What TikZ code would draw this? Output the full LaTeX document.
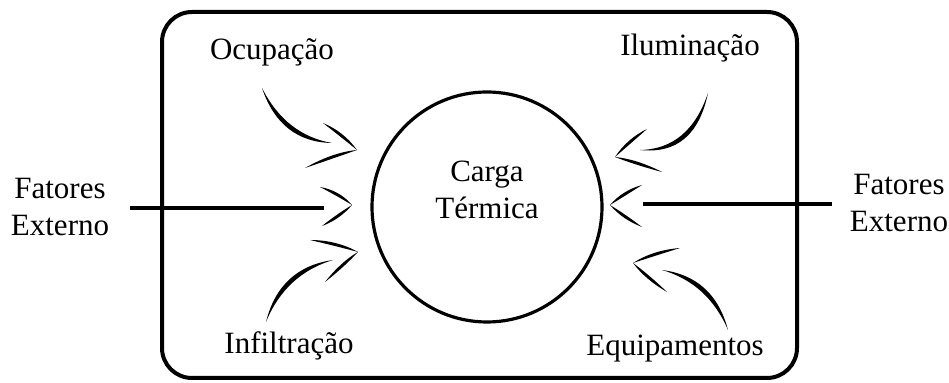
\documentclass[tikz,border=0pt]{standalone}
\usepackage{fontspec}
\setmainfont{Liberation Serif}
\usetikzlibrary{calc}
% tapered brush stroke along a quadratic curve A -- C -- B
\newcommand\brush[4]{%
  \coordinate (bA) at #1; \coordinate (bC) at #2; \coordinate (bB) at #3;
  \coordinate (bn) at ($(bA)!#4!90:(bB)$);
  \coordinate (bP) at ($(bA)!0.6667!(bC)$);
  \coordinate (bQ) at ($(bB)!0.6667!(bC)$);
  \fill (bA) .. controls ($(bP)+(bn)-(bA)$) and ($(bQ)+(bn)-(bA)$) .. (bB)
        .. controls ($(bQ)-(bn)+(bA)$) and ($(bP)-(bn)+(bA)$) .. (bA);
}
\begin{document}
\begin{tikzpicture}[x=0.5pt,y=-0.5pt,
  lbl/.style={font=\fontsize{15.5}{18.5}\selectfont, align=center, inner sep=0pt},
  frame/.style={line width=2pt, rounded corners=15pt},
  ring/.style={line width=1.6pt},
  feed/.style={line width=2pt}]
\useasboundingbox (0,0) rectangle (949,383);
\draw[frame] (162,12) rectangle (797,378);
\node[ring, draw, circle, minimum size=115pt, inner sep=0pt] (circ) at (487,207) {};
\node[lbl] (carga) at (487,190) {Carga\\Térmica};
\node[lbl] (ocup) at (272,52) {Ocupação};
\node[lbl] (ilum) at (690,48) {Iluminação};
\node[lbl] (infil) at (289,346) {Infiltração};
\node[lbl] (equip) at (675,349) {Equipamentos};
\node[lbl] (fl) at (60,207) {Fatores\\Externo};
\node[lbl] (fr) at (899,203) {Fatores\\Externo};
\coordinate (le) at (324,208);
\coordinate (rs) at (643,204);
\coordinate (re) at (832,204);
\draw[feed] (fl.east |- le) ++(21,0) -- (le);
\draw[feed] (rs) -- (re);
% top-left
\brush{(262,88)}{(283,138.5)}{(332,143)}{1.5pt}
\brush{(323,123)}{(342,134)}{(357,150)}{1pt}
\brush{(305,168)}{(334,155)}{(357,150)}{1pt}
% top-right
\brush{(708,93)}{(692,152.5)}{(640,150)}{1.5pt}
\brush{(647,129)}{(629,141)}{(615,157)}{1pt}
\brush{(662,172)}{(636,162)}{(615,157)}{1pt}
% bottom-left
\brush{(266,322)}{(282.5,271)}{(333,260)}{1.5pt}
\brush{(310,240)}{(336,243)}{(358,252)}{1pt}
\brush{(325,282)}{(343,264)}{(358,252)}{1pt}
% bottom-right
\brush{(662,270)}{(711,280)}{(728,330)}{1.5pt}
\brush{(680,248)}{(654,253)}{(633,263)}{1pt}
\brush{(667,292)}{(647,277)}{(633,263)}{1pt}
% middle left
\brush{(320,187)}{(338,193)}{(352,205)}{1pt}
\brush{(322,226)}{(338,217)}{(352,205)}{1pt}
% middle right
\brush{(642,185)}{(624,193)}{(610,205)}{1pt}
\brush{(642,227)}{(624,217)}{(610,205)}{1pt}
\end{tikzpicture}
\end{document}
